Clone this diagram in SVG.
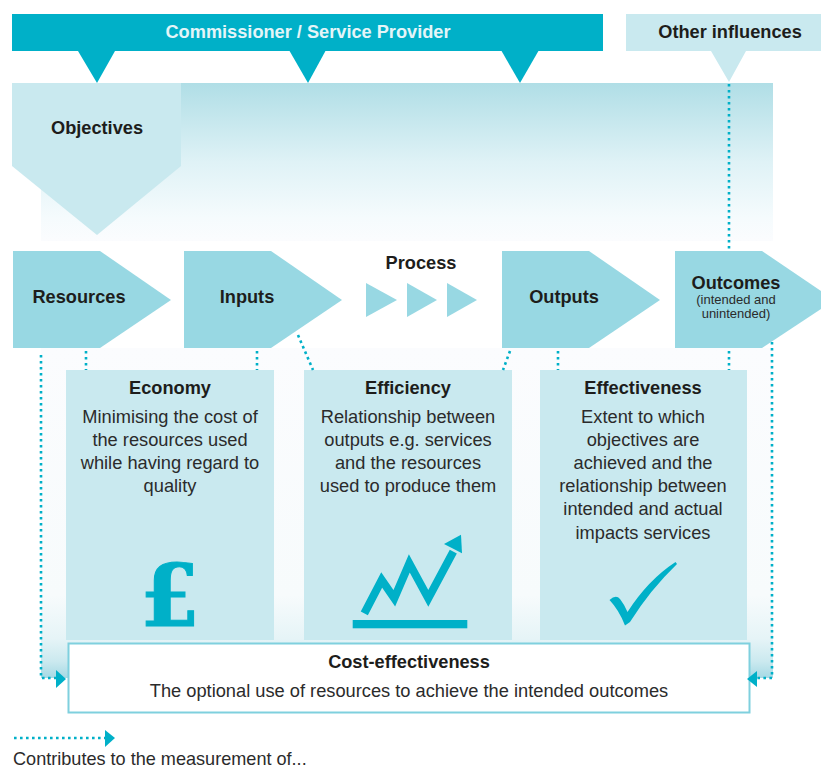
<svg xmlns="http://www.w3.org/2000/svg" width="821" height="768" viewBox="0 0 821 768">
<style>
text{font-family:"Liberation Sans",Arial,sans-serif;fill:#1d1d1b;text-anchor:middle}
.h{font-weight:bold;font-size:18.2px}
.b{font-size:18.25px;fill:#2b2b2b}
.s{font-size:13px;fill:#2b2b2b}
.pale{fill:#c9e9ef}
.mid{fill:#98d8e3}
.dark{fill:#00b0c8}
.dots{fill:none;stroke:#00b0c8;stroke-width:2.6;stroke-dasharray:2.6 3.4}
</style>
<defs>
<linearGradient id="top" x1="0" y1="0" x2="0" y2="1"><stop offset="0" stop-color="#b0dee6"/><stop offset="0.5" stop-color="#dff2f6"/><stop offset="0.85" stop-color="#f5fbfd"/><stop offset="1" stop-color="#fbfcfe"/></linearGradient>
<linearGradient id="bottom" x1="0" y1="0" x2="0" y2="1"><stop offset="0" stop-color="#fbfcfe"/><stop offset="0.75" stop-color="#f7fbfc"/><stop offset="0.88" stop-color="#e6f4f7"/><stop offset="0.95" stop-color="#cbe9ef"/><stop offset="1" stop-color="#a5d9e4"/></linearGradient>
</defs>
<g id="backgrounds">
<rect x="12" y="83" width="761" height="1" fill="#b0dee6"/>
<rect x="41" y="83" width="732" height="158" fill="url(#top)"/>
<rect x="41" y="348" width="732" height="330" fill="url(#bottom)"/>
</g>
<g id="commissioner">
<path class="dark" d="M12 14H603V51H115L97 83L78 51H12Z"/>
<path class="dark" d="M289 50H326L308 83Z"/>
<path class="dark" d="M501 50H539L520 83Z"/>
<text class="h" x="308" y="38" style="fill:#e4f5f8">Commissioner / Service Provider</text>
</g>
<g id="other-influences">
<path class="pale" d="M626 14H821V51H746L729 82L711 51H626Z"/>
<text class="h" x="730" y="38">Other influences</text>
</g>
<g id="objectives">
<path class="pale" d="M12 83H181V166L97 235L12 166Z"/>
<text class="h" x="97" y="134">Objectives</text>
</g>
<g id="resources">
<path class="mid" d="M13 251H100L171 300L100 348H13Z"/>
<text class="h" x="79" y="303">Resources</text>
</g>
<g id="inputs">
<path class="mid" d="M184 251H271L342 300L271 348H184Z"/>
<text class="h" x="247" y="303">Inputs</text>
</g>
<g id="process">
<text class="h" x="421" y="269">Process</text>
<path class="mid" d="M366 283L397 300L366 317Z"/>
<path class="mid" d="M407 283L437 300L407 317Z"/>
<path class="mid" d="M447 283L477 300L447 317Z"/>
</g>
<g id="outputs">
<path class="mid" d="M502 251H589L660 300L589 348H502Z"/>
<text class="h" x="564" y="303">Outputs</text>
</g>
<g id="outcomes">
<path class="mid" d="M675 251H762L821 291V309L762 348H675Z"/>
<text class="h" x="736" y="288.500">Outcomes</text>
<text class="s" x="736" y="304">(intended and</text>
<text class="s" x="736" y="318">unintended)</text>
</g>
<g id="economy">
<rect class="pale" x="66" y="370" width="208" height="270"/>
<text class="h" x="170" y="394">Economy</text>
<text class="b" x="170" y="423">Minimising the cost of</text>
<text class="b" x="170" y="446">the resources used</text>
<text class="b" x="170" y="469">while having regard to</text>
<text class="b" x="170" y="492">quality</text>
<text x="170" y="626" style="font-family:'DejaVu Serif',serif;font-weight:bold;font-size:86px;fill:#00b0c8;stroke:#00b0c8;stroke-width:1">£</text>
</g>
<g id="efficiency">
<rect class="pale" x="304" y="370" width="208" height="270"/>
<text class="h" x="408" y="394">Efficiency</text>
<text class="b" x="408" y="423">Relationship between</text>
<text class="b" x="408" y="446">outputs e.g. services</text>
<text class="b" x="408" y="469">and the resources</text>
<text class="b" x="408" y="492">used to produce them</text>
<path d="M364.300 613.300L381.700 580L394.300 598.300L409.300 563.300L428.300 598.300L453.300 551.700" fill="none" stroke="#00b0c8" stroke-width="8"/>
<path class="dark" d="M444 544L461 534.700L462 553.300Z"/>
<rect class="dark" x="352.700" y="620" width="114.600" height="8.300"/>
</g>
<g id="effectiveness">
<rect class="pale" x="540" y="370" width="207" height="270"/>
<text class="h" x="643" y="394">Effectiveness</text>
<text class="b" x="643" y="423">Extent to which</text>
<text class="b" x="643" y="446">objectives are</text>
<text class="b" x="643" y="469">achieved and the</text>
<text class="b" x="643" y="492">relationship between</text>
<text class="b" x="643" y="515">intended and actual</text>
<text class="b" x="643" y="539">impacts services</text>
<path class="dark" d="M609.500 600Q616 594 620 599Q624 604 627.500 612Q648 580 675.500 562L677 564Q650 590 630 622L625 625.500Q619 610 609.500 600Z"/>
</g>
<g id="cost-effectiveness">
<rect x="68.500" y="643.500" width="681" height="69" fill="#fff" stroke="#7fd0de" stroke-width="2"/>
<text class="h" x="409" y="668">Cost-effectiveness</text>
<text class="b" x="409" y="697">The optional use of resources to achieve the intended outcomes</text>
</g>
<g id="connectors">
<path class="dots" d="M729 84V250"/>
<path class="dots" d="M86 351V370"/>
<path class="dots" d="M257 351V370"/>
<path class="dots" d="M298 335L313 370"/>
<path class="dots" d="M510 351L503 370"/>
<path class="dots" d="M558 351V370"/>
<path class="dots" d="M729 351V370"/>
<path class="dots" d="M41 355V678H57"/>
<path class="dark" d="M56 670L66 679L56 688Z"/>
<path class="dots" d="M772 342V678H757"/>
<path class="dark" d="M757 671L747 679L757 687Z"/>
<path class="dots" d="M14 738H105"/>
<path class="dark" d="M105 730L115 738L105 747Z"/>
</g>
<g id="legend">
<text x="13" y="765" style="font-size:18.100px;fill:#2b2b2b;text-anchor:start">Contributes to the measurement of...</text>
</g>
</svg>
